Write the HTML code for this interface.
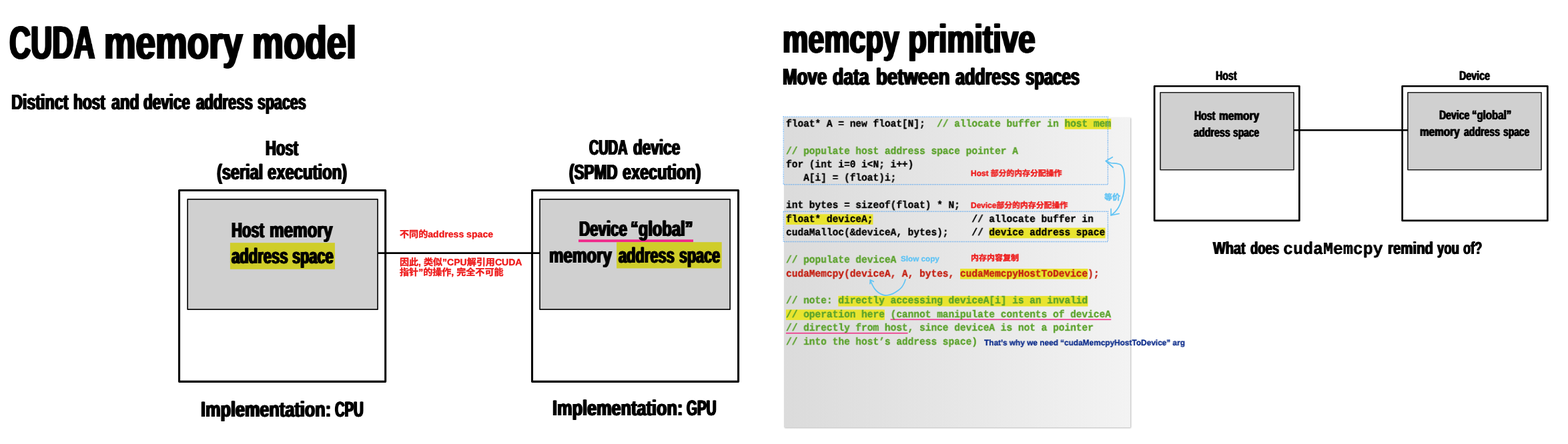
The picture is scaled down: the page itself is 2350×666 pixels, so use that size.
<!DOCTYPE html>
<html lang="en">
<head>
<meta charset="utf-8">
<title>CUDA memory model / memcpy primitive</title>
<style>
html,body{margin:0;padding:0;background:#fff;}
body{width:2350px;height:666px;position:relative;overflow:hidden;text-rendering:geometricPrecision;font-family:"Liberation Sans",sans-serif;color:#000;}
.t{position:absolute;white-space:pre;line-height:1;text-rendering:geometricPrecision;font-weight:700;font-family:"Liberation Sans",sans-serif;transform-origin:0 0;will-change:transform;}
.c{font-family:"Liberation Mono",monospace;font-size:15.373px;font-weight:700;-webkit-text-stroke:0.35px currentColor;}
.a{-webkit-text-stroke:0.4px currentColor;font-family:"Liberation Sans","Noto Sans CJK SC",sans-serif;}
#codebg{position:absolute;left:1174.5px;top:175.8px;width:519.5px;height:465px;background:linear-gradient(to right,#dbdbdb 0%,#e4e4e4 40%,#f3f3f3 100%);box-shadow:1px 1px 2px rgba(0,0,0,0.28);}
svg.ov{position:absolute;left:0;top:0;overflow:visible;}
</style>
</head>
<body>

<!-- ===== diagrams (both slides) ===== -->
<svg class="ov" width="2350" height="666" viewBox="0 0 2350 666">
<rect x="268.57" y="285.57" width="309.10" height="286.80" fill="#fff" stroke="#000" stroke-width="3.05" stroke-linejoin="round"/>
<rect x="797.52" y="285.57" width="309.05" height="286.80" fill="#fff" stroke="#000" stroke-width="3.05" stroke-linejoin="round"/>
<rect x="281.15" y="298.95" width="284.90" height="165.10" fill="#d0d0d0" stroke="#0a0a0a" stroke-width="1.7" stroke-linejoin="round"/>
<rect x="809.05" y="298.95" width="285.10" height="165.10" fill="#d0d0d0" stroke="#0a0a0a" stroke-width="1.7" stroke-linejoin="round"/>
<line x1="566" y1="379.65" x2="809" y2="379.65" stroke="#000" stroke-width="2.8"/>
<rect x="1730.15" y="129.25" width="217.20" height="201.70" fill="#fff" stroke="#000" stroke-width="2.7" stroke-linejoin="round"/>
<rect x="2101.65" y="129.25" width="217.70" height="201.70" fill="#fff" stroke="#000" stroke-width="2.7" stroke-linejoin="round"/>
<rect x="1739.00" y="138.80" width="200.00" height="115.90" fill="#d0d0d0" stroke="#1c1c1c" stroke-width="1.6" stroke-linejoin="round"/>
<rect x="2109.90" y="138.80" width="200.10" height="115.90" fill="#d0d0d0" stroke="#1c1c1c" stroke-width="1.6" stroke-linejoin="round"/>
<line x1="1939" y1="195.2" x2="2110" y2="195.2" stroke="#000" stroke-width="2.5"/>
<rect x="867" y="359.3" width="172" height="3.9" fill="#f0288a"/>
<rect x="344.9" y="364.2" width="157" height="39.6" fill="#cfcd2a"/>
<rect x="924.1" y="363.2" width="157.6" height="39.3" fill="#cfcd2a"/>
</svg>

<!-- ===== right slide: code block ===== -->
<div id="codebg"></div>

<svg class="ov" width="2350" height="666" viewBox="0 0 2350 666"><rect x="1595.64" y="178.10" width="69.62" height="15.65" fill="#e9e42f"/><rect x="1177.90" y="321.25" width="130.54" height="15.65" fill="#e9e42f"/><rect x="1482.51" y="341.70" width="174.06" height="15.65" fill="#e9e42f"/><rect x="1438.99" y="403.05" width="191.47" height="15.65" fill="#e9e42f"/><rect x="1256.23" y="443.95" width="374.23" height="15.65" fill="#e9e42f"/><rect x="1177.90" y="464.40" width="147.95" height="15.65" fill="#e9e42f"/><rect x="1334.55" y="478.45" width="330.71" height="1.7" fill="#ee3a8c"/><rect x="1177.90" y="498.90" width="182.76" height="1.7" fill="#ee3a8c"/></svg>
<div class="t c" style="left:1177.90px;top:178.60px;transform:scaleX(0.9434)">float* A = new float[N];  <span style="color:#5ba22c">// allocate buffer in host mem</span></div>
<div class="t c" style="left:1177.90px;top:219.50px;transform:scaleX(0.9434)"><span style="color:#5ba22c">// populate host address space pointer A</span></div>
<div class="t c" style="left:1177.90px;top:239.95px;transform:scaleX(0.9434)">for (int i=0 i&lt;N; i++)</div>
<div class="t c" style="left:1177.90px;top:260.40px;transform:scaleX(0.9434)">   A[i] = (float)i;</div>
<div class="t c" style="left:1177.90px;top:301.30px;transform:scaleX(0.9434)">int bytes = sizeof(float) * N;</div>
<div class="t c" style="left:1177.90px;top:321.75px;transform:scaleX(0.9434)">float* deviceA;                 // allocate buffer in</div>
<div class="t c" style="left:1177.90px;top:342.20px;transform:scaleX(0.9434)">cudaMalloc(&amp;deviceA, bytes);    // device address space</div>
<div class="t c" style="left:1177.90px;top:383.10px;transform:scaleX(0.9434)"><span style="color:#5ba22c">// populate deviceA</span></div>
<div class="t c" style="left:1177.90px;top:403.55px;transform:scaleX(0.9434)"><span style="color:#c41f12">cudaMemcpy(deviceA, A, bytes, cudaMemcpyHostToDevice);</span></div>
<div class="t c" style="left:1177.90px;top:444.45px;transform:scaleX(0.9434)"><span style="color:#5ba22c">// note: directly accessing deviceA[i] is an invalid</span></div>
<div class="t c" style="left:1177.90px;top:464.90px;transform:scaleX(0.9434)"><span style="color:#5ba22c">// operation here (cannot manipulate contents of deviceA</span></div>
<div class="t c" style="left:1177.90px;top:485.35px;transform:scaleX(0.9434)"><span style="color:#5ba22c">// directly from host, since deviceA is not a pointer</span></div>
<div class="t c" style="left:1177.90px;top:505.80px;transform:scaleX(0.9434)"><span style="color:#5ba22c">// into the host’s address space)</span></div>

<div class="t" style="left:14.03px;top:28.60px;font-size:70px;transform:scaleX(0.6348);text-shadow:2.36px 0 0 currentColor,-2.36px 0 0 currentColor,1.18px 0 0 currentColor,-1.18px 0 0 currentColor;">CUDA</div>
<div class="t" style="left:156.45px;top:28.60px;font-size:70px;transform:scaleX(0.7619);text-shadow:1.97px 0 0 currentColor,-1.97px 0 0 currentColor,0.98px 0 0 currentColor,-0.98px 0 0 currentColor;">memory</div>
<div class="t" style="left:377.98px;top:28.60px;font-size:70px;transform:scaleX(0.7557);text-shadow:1.98px 0 0 currentColor,-1.98px 0 0 currentColor,0.99px 0 0 currentColor,-0.99px 0 0 currentColor;">model</div>
<div class="t" style="left:17.44px;top:136.80px;font-size:32px;transform:scaleX(0.7287);text-shadow:1.37px 0 0 currentColor,-1.37px 0 0 currentColor,0.69px 0 0 currentColor,-0.69px 0 0 currentColor;">Distinct</div>
<div class="t" style="left:110.49px;top:136.80px;font-size:32px;transform:scaleX(0.7057);text-shadow:1.42px 0 0 currentColor,-1.42px 0 0 currentColor,0.71px 0 0 currentColor,-0.71px 0 0 currentColor;">host</div>
<div class="t" style="left:166.50px;top:136.80px;font-size:32px;transform:scaleX(0.7300);text-shadow:1.37px 0 0 currentColor,-1.37px 0 0 currentColor,0.68px 0 0 currentColor,-0.68px 0 0 currentColor;">and</div>
<div class="t" style="left:215.20px;top:136.80px;font-size:32px;transform:scaleX(0.7012);text-shadow:1.43px 0 0 currentColor,-1.43px 0 0 currentColor,0.71px 0 0 currentColor,-0.71px 0 0 currentColor;">device</div>
<div class="t" style="left:293.80px;top:136.80px;font-size:32px;transform:scaleX(0.6913);text-shadow:1.45px 0 0 currentColor,-1.45px 0 0 currentColor,0.72px 0 0 currentColor,-0.72px 0 0 currentColor;">address</div>
<div class="t" style="left:385.83px;top:136.80px;font-size:32px;transform:scaleX(0.6690);text-shadow:1.49px 0 0 currentColor,-1.49px 0 0 currentColor,0.75px 0 0 currentColor,-0.75px 0 0 currentColor;">spaces</div>
<div class="t" style="left:397.72px;top:205.60px;font-size:32px;transform:scaleX(0.6882);text-shadow:1.45px 0 0 currentColor,-1.45px 0 0 currentColor,0.73px 0 0 currentColor,-0.73px 0 0 currentColor;">Host</div>
<div class="t" style="left:324.77px;top:241.90px;font-size:32px;transform:scaleX(0.7342);text-shadow:1.36px 0 0 currentColor,-1.36px 0 0 currentColor,0.68px 0 0 currentColor,-0.68px 0 0 currentColor;">(serial</div>
<div class="t" style="left:400.96px;top:241.90px;font-size:32px;transform:scaleX(0.7438);text-shadow:1.34px 0 0 currentColor,-1.34px 0 0 currentColor,0.67px 0 0 currentColor,-0.67px 0 0 currentColor;">execution)</div>
<div class="t" style="left:883.48px;top:205.20px;font-size:32px;transform:scaleX(0.6219);text-shadow:1.61px 0 0 currentColor,-1.61px 0 0 currentColor,0.80px 0 0 currentColor,-0.80px 0 0 currentColor;">CUDA</div>
<div class="t" style="left:949.49px;top:205.20px;font-size:32px;transform:scaleX(0.7053);text-shadow:1.42px 0 0 currentColor,-1.42px 0 0 currentColor,0.71px 0 0 currentColor,-0.71px 0 0 currentColor;">device</div>
<div class="t" style="left:852.50px;top:241.80px;font-size:32px;transform:scaleX(0.7030);text-shadow:1.42px 0 0 currentColor,-1.42px 0 0 currentColor,0.71px 0 0 currentColor,-0.71px 0 0 currentColor;">(SPMD</div>
<div class="t" style="left:932.57px;top:241.80px;font-size:32px;transform:scaleX(0.7337);text-shadow:1.36px 0 0 currentColor,-1.36px 0 0 currentColor,0.68px 0 0 currentColor,-0.68px 0 0 currentColor;">execution)</div>
<div class="t" style="left:347.42px;top:328.80px;font-size:32px;transform:scaleX(0.6882);text-shadow:1.45px 0 0 currentColor,-1.45px 0 0 currentColor,0.73px 0 0 currentColor,-0.73px 0 0 currentColor;">Host</div>
<div class="t" style="left:404.08px;top:328.80px;font-size:32px;transform:scaleX(0.7579);text-shadow:1.32px 0 0 currentColor,-1.32px 0 0 currentColor,0.66px 0 0 currentColor,-0.66px 0 0 currentColor;">memory</div>
<div class="t" style="left:346.50px;top:368.00px;font-size:32px;transform:scaleX(0.6881);text-shadow:1.45px 0 0 currentColor,-1.45px 0 0 currentColor,0.73px 0 0 currentColor,-0.73px 0 0 currentColor;">address</div>
<div class="t" style="left:438.42px;top:368.00px;font-size:32px;transform:scaleX(0.6791);text-shadow:1.47px 0 0 currentColor,-1.47px 0 0 currentColor,0.74px 0 0 currentColor,-0.74px 0 0 currentColor;">space</div>
<div class="t" style="left:867.51px;top:327.40px;font-size:32px;transform:scaleX(0.6973);text-shadow:1.43px 0 0 currentColor,-1.43px 0 0 currentColor,0.72px 0 0 currentColor,-0.72px 0 0 currentColor;">Device</div>
<div class="t" style="left:945.42px;top:327.40px;font-size:32px;transform:scaleX(0.7405);text-shadow:1.35px 0 0 currentColor,-1.35px 0 0 currentColor,0.68px 0 0 currentColor,-0.68px 0 0 currentColor;">“global”</div>
<div class="t" style="left:823.49px;top:367.40px;font-size:32px;transform:scaleX(0.7539);text-shadow:1.33px 0 0 currentColor,-1.33px 0 0 currentColor,0.66px 0 0 currentColor,-0.66px 0 0 currentColor;">memory</div>
<div class="t" style="left:926.50px;top:367.40px;font-size:32px;transform:scaleX(0.6831);text-shadow:1.46px 0 0 currentColor,-1.46px 0 0 currentColor,0.73px 0 0 currentColor,-0.73px 0 0 currentColor;">address</div>
<div class="t" style="left:1018.33px;top:367.40px;font-size:32px;transform:scaleX(0.6735);text-shadow:1.48px 0 0 currentColor,-1.48px 0 0 currentColor,0.74px 0 0 currentColor,-0.74px 0 0 currentColor;">space</div>
<div class="t" style="left:301.44px;top:597.80px;font-size:32.3px;transform:scaleX(0.7819);text-shadow:1.28px 0 0 currentColor,-1.28px 0 0 currentColor,0.64px 0 0 currentColor,-0.64px 0 0 currentColor;">Implementation:</div>
<div class="t" style="left:502.27px;top:597.80px;font-size:32.3px;transform:scaleX(0.6255);text-shadow:1.60px 0 0 currentColor,-1.60px 0 0 currentColor,0.80px 0 0 currentColor,-0.80px 0 0 currentColor;">CPU</div>
<div class="t" style="left:828.23px;top:596.20px;font-size:32.3px;transform:scaleX(0.7831);text-shadow:1.28px 0 0 currentColor,-1.28px 0 0 currentColor,0.64px 0 0 currentColor,-0.64px 0 0 currentColor;">Implementation:</div>
<div class="t" style="left:1029.36px;top:596.20px;font-size:32.3px;transform:scaleX(0.6355);text-shadow:1.57px 0 0 currentColor,-1.57px 0 0 currentColor,0.79px 0 0 currentColor,-0.79px 0 0 currentColor;">GPU</div>
<div class="t" style="left:1173.25px;top:29.10px;font-size:60px;transform:scaleX(0.7172);text-shadow:1.95px 0 0 currentColor,-1.95px 0 0 currentColor,0.98px 0 0 currentColor,-0.98px 0 0 currentColor;">memcpy</div>
<div class="t" style="left:1361.41px;top:29.10px;font-size:60px;transform:scaleX(0.7623);text-shadow:1.84px 0 0 currentColor,-1.84px 0 0 currentColor,0.92px 0 0 currentColor,-0.92px 0 0 currentColor;">primitive</div>
<div class="t" style="left:1172.72px;top:98.00px;font-size:35px;transform:scaleX(0.7402);text-shadow:1.49px 0 0 currentColor,-1.49px 0 0 currentColor,0.74px 0 0 currentColor,-0.74px 0 0 currentColor;">Move</div>
<div class="t" style="left:1247.94px;top:98.00px;font-size:35px;transform:scaleX(0.7566);text-shadow:1.45px 0 0 currentColor,-1.45px 0 0 currentColor,0.73px 0 0 currentColor,-0.73px 0 0 currentColor;">data</div>
<div class="t" style="left:1313.12px;top:98.00px;font-size:35px;transform:scaleX(0.7888);text-shadow:1.39px 0 0 currentColor,-1.39px 0 0 currentColor,0.70px 0 0 currentColor,-0.70px 0 0 currentColor;">between</div>
<div class="t" style="left:1431.98px;top:98.00px;font-size:35px;transform:scaleX(0.7170);text-shadow:1.53px 0 0 currentColor,-1.53px 0 0 currentColor,0.77px 0 0 currentColor,-0.77px 0 0 currentColor;">address</div>
<div class="t" style="left:1536.62px;top:98.00px;font-size:35px;transform:scaleX(0.6824);text-shadow:1.61px 0 0 currentColor,-1.61px 0 0 currentColor,0.81px 0 0 currentColor,-0.81px 0 0 currentColor;">spaces</div>
<div class="t" style="left:1822.12px;top:105.00px;font-size:19.4px;transform:scaleX(0.7318);text-shadow:0.75px 0 0 currentColor,-0.75px 0 0 currentColor;">Host</div>
<div class="t" style="left:2186.81px;top:104.70px;font-size:19.4px;transform:scaleX(0.7353);text-shadow:0.75px 0 0 currentColor,-0.75px 0 0 currentColor;">Device</div>
<div class="t" style="left:1790.31px;top:164.70px;font-size:19.2px;transform:scaleX(0.7361);text-shadow:0.75px 0 0 currentColor,-0.75px 0 0 currentColor;">Host</div>
<div class="t" style="left:1826.54px;top:164.70px;font-size:19.2px;transform:scaleX(0.8056);text-shadow:0.68px 0 0 currentColor,-0.68px 0 0 currentColor;">memory</div>
<div class="t" style="left:1788.95px;top:189.60px;font-size:19.2px;transform:scaleX(0.7433);text-shadow:0.74px 0 0 currentColor,-0.74px 0 0 currentColor;">address</div>
<div class="t" style="left:1848.45px;top:189.60px;font-size:19.2px;transform:scaleX(0.7180);text-shadow:0.77px 0 0 currentColor,-0.77px 0 0 currentColor;">space</div>
<div class="t" style="left:2156.52px;top:164.00px;font-size:19.2px;transform:scaleX(0.7320);text-shadow:0.75px 0 0 currentColor,-0.75px 0 0 currentColor;">Device</div>
<div class="t" style="left:2206.07px;top:164.00px;font-size:19.2px;transform:scaleX(0.7815);text-shadow:0.70px 0 0 currentColor,-0.70px 0 0 currentColor;">“global”</div>
<div class="t" style="left:2128.05px;top:189.10px;font-size:19.2px;transform:scaleX(0.7989);text-shadow:0.69px 0 0 currentColor,-0.69px 0 0 currentColor;">memory</div>
<div class="t" style="left:2193.65px;top:189.10px;font-size:19.2px;transform:scaleX(0.7323);text-shadow:0.75px 0 0 currentColor,-0.75px 0 0 currentColor;">address</div>
<div class="t" style="left:2252.65px;top:189.10px;font-size:19.2px;transform:scaleX(0.7198);text-shadow:0.76px 0 0 currentColor,-0.76px 0 0 currentColor;">space</div>
<div class="t" style="left:1818.05px;top:359.20px;font-size:26px;transform:scaleX(0.7639);text-shadow:0.98px 0 0 currentColor,-0.98px 0 0 currentColor;">What</div>
<div class="t" style="left:1873.74px;top:359.20px;font-size:26px;transform:scaleX(0.7092);text-shadow:1.06px 0 0 currentColor,-1.06px 0 0 currentColor;">does</div>
<div class="t" style="left:1923.23px;top:362.20px;font-size:25.8px;transform:scaleX(0.9672);text-shadow:0.21px 0 0 currentColor,-0.21px 0 0 currentColor;font-family:'Liberation Mono',monospace">cudaMemcpy</div>
<div class="t" style="left:2079.77px;top:359.20px;font-size:26px;transform:scaleX(0.7830);text-shadow:0.96px 0 0 currentColor,-0.96px 0 0 currentColor;">remind</div>
<div class="t" style="left:2153.75px;top:359.20px;font-size:26px;transform:scaleX(0.7102);text-shadow:1.06px 0 0 currentColor,-1.06px 0 0 currentColor;">you</div>
<div class="t" style="left:2192.85px;top:359.20px;font-size:26px;transform:scaleX(0.6980);text-shadow:1.07px 0 0 currentColor,-1.07px 0 0 currentColor;">of?</div>
<div class="t" style="left:1474.70px;top:508.30px;font-size:12px;transform:scaleX(0.9875);color:#0b2b8a;-webkit-text-stroke:0.3px #0b2b8a">That’s why we need “cudaMemcpyHostToDevice” arg</div>
<div class="t" style="left:1350.00px;top:384.00px;font-size:11.5px;transform:scaleX(1.0161);color:#62c4f4;-webkit-text-stroke:0.3px #62c4f4">Slow copy</div>

<div class="t a" style="left:599.01px;top:345.24px;font-size:13.8px;color:#ee1c1c;transform:scaleX(1.0202)">不同的address space</div>
<div class="t a" style="left:599.01px;top:387.24px;font-size:13.8px;color:#ee1c1c;transform:scaleX(1.0188)">因此, 类似”CPU解引用CUDA</div>
<div class="t a" style="left:599.01px;top:401.64px;font-size:13.8px;color:#ee1c1c;transform:scaleX(1.0195)">指针”的操作, 完全不可能</div>
<div class="t a" style="left:1455.00px;top:254.24px;font-size:12.0px;color:#ee1c1c;transform:scaleX(0.9885)">Host 部分的内存分配操作</div>
<div class="t a" style="left:1455.00px;top:301.84px;font-size:12.0px;color:#ee1c1c;transform:scaleX(0.9892)">Device部分的内存分配操作</div>
<div class="t a" style="left:1454.58px;top:380.84px;font-size:12.0px;color:#ee1c1c;transform:scaleX(0.9933)">内存内容复制</div>
<div class="t a" style="left:1654.98px;top:290.14px;font-size:12.0px;color:#62c4f4;transform:scaleX(0.9966)">等价</div>

<!-- blue hand-drawn arrows -->
<svg class="ov" width="2350" height="666" viewBox="0 0 2350 666" fill="none" stroke="#62c4f4" stroke-width="1.7" stroke-linecap="round" stroke-linejoin="round">
<g stroke="#5aa6ef" stroke-width="1.4" stroke-dasharray="1.35 1.35" stroke-linecap="butt" stroke-linejoin="miter" opacity="0.9">
<rect x="1174.2" y="175.2" width="486.2" height="101.6"/>
<rect x="1174.2" y="317.2" width="486.2" height="45.3"/>
</g>
<path d="M1657.4 241.5 C1658.6 242.0 1662.2 243.9 1664.8 244.5 C1667.4 245.1 1670.6 244.7 1673.1 245.2 C1675.6 245.7 1678.0 246.0 1679.7 247.3 C1681.4 248.6 1682.4 250.5 1683.3 253.1 C1684.2 255.7 1684.6 259.4 1685.0 263.0 C1685.4 266.6 1685.6 270.5 1685.5 274.6 C1685.4 278.7 1685.0 283.7 1684.3 287.8 C1683.6 291.9 1682.6 295.5 1681.3 299.4 C1680.0 303.3 1678.2 307.8 1676.4 311.0 C1674.6 314.2 1672.5 316.4 1670.6 318.4 C1668.7 320.4 1666.0 322.1 1665.1 322.9"/>
<path d="M1667.3 235.7 L1657.4 241.5 L1668.1 251"/>
<path d="M1665.1 313.4 L1665.1 322.9 L1677.2 320.5"/>
<path d="M1357.0 419.3 C1356.7 420.2 1355.9 423.1 1354.9 425.0 C1354.0 426.9 1352.8 429.2 1351.3 431.0 C1349.8 432.8 1348.1 434.2 1345.9 435.8 C1343.7 437.4 1340.8 439.4 1338.0 440.6 C1335.2 441.8 1331.4 442.7 1329.0 443.0 C1326.6 443.3 1325.7 443.1 1323.6 442.4 C1321.5 441.7 1318.5 440.3 1316.4 438.8 C1314.3 437.3 1312.5 435.3 1311.0 433.4 C1309.5 431.5 1308.4 429.3 1307.4 427.4 C1306.4 425.5 1305.5 423.2 1305.0 422.0 C1304.5 420.8 1304.5 420.2 1304.4 419.9"/>
<path d="M1303.9 425.6 L1304.4 419.9 L1309.2 422.3"/>
</svg>

</body>
</html>
